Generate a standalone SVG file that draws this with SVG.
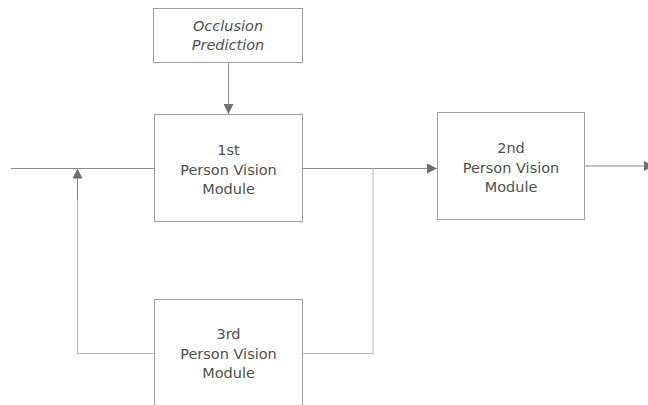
<svg xmlns="http://www.w3.org/2000/svg" width="648" height="405" viewBox="0 0 648 405">
<defs>
<marker id="ah" markerWidth="10" markerHeight="10" refX="10" refY="5" orient="auto" markerUnits="userSpaceOnUse">
<path d="M0,0 L10,5 L0,10 Z" fill="#707070"/>
</marker>
<style>
.box{fill:#fff;stroke:#a0a0a0;stroke-width:1}
.ln{fill:none;stroke:#8a8a8a;stroke-width:1}
.ln2{fill:none;stroke:#b4b4b4;stroke-width:1}
.t{font-family:"DejaVu Sans",Verdana,sans-serif;font-size:14.5px;fill:#505050;text-anchor:middle}
.i{font-style:italic}
</style>
</defs>
<rect width="648" height="405" fill="#fff"/>
<g id="connectors">
<path class="ln" d="M228.5,62 V114" marker-end="url(#ah)"/>
<path class="ln" d="M11,168.5 H154"/>
<path class="ln" d="M303,168.5 H437" marker-end="url(#ah)"/>
<path class="ln2" d="M373,168.5 V353.5 H303"/>
<path class="ln2" d="M154,353.5 H77.5 V168.5" />
<path class="ln" d="M77.5,200 V168.5" marker-end="url(#ah)"/>
<path class="ln" d="M585,166 H654" marker-end="url(#ah)"/>
</g>
<g id="occlusion">
<rect class="box" x="153.5" y="8.5" width="149" height="54"/>
<text class="t i" x="228" y="31">Occlusion</text>
<text class="t i" x="228" y="50">Prediction</text>
</g>
<g id="first">
<rect class="box" x="154.5" y="114.5" width="148" height="107"/>
<text class="t" x="228.5" y="155">1st</text>
<text class="t" x="228.5" y="174.5">Person Vision</text>
<text class="t" x="228.5" y="194">Module</text>
</g>
<g id="second">
<rect class="box" x="437.5" y="112.5" width="147" height="107"/>
<text class="t" x="511" y="153">2nd</text>
<text class="t" x="511" y="172.5">Person Vision</text>
<text class="t" x="511" y="192">Module</text>
</g>
<g id="third">
<rect class="box" x="154.5" y="299.5" width="148" height="120"/>
<text class="t" x="228.5" y="339">3rd</text>
<text class="t" x="228.5" y="358.5">Person Vision</text>
<text class="t" x="228.5" y="378">Module</text>
</g>
</svg>
